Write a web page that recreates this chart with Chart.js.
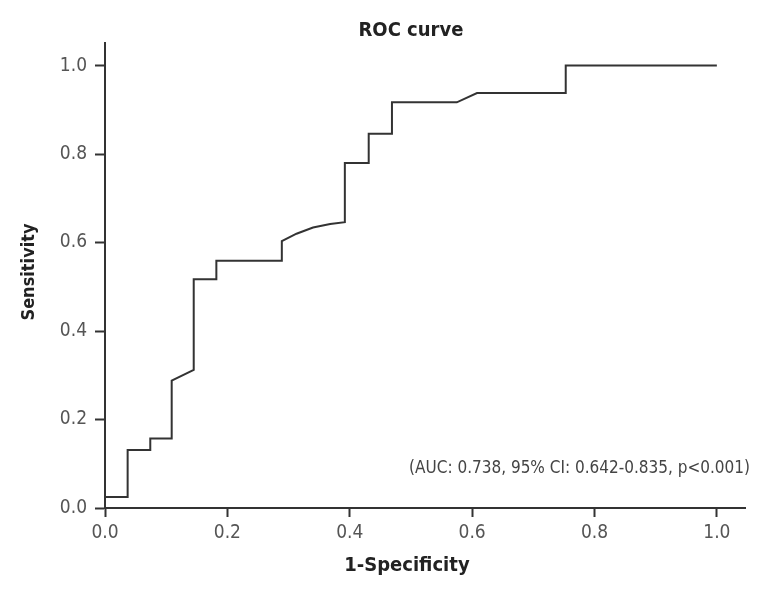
<!DOCTYPE html>
<html>
<head>
<meta charset="utf-8">
<script src="https://cdn.jsdelivr.net/npm/chart.js@4.4.1/dist/chart.umd.min.js"></script>
<style>
  html, body { margin: 0; padding: 0; background: #fff; }
  #wrap { width: 777px; height: 589px; }
</style>
</head>
<body>
<div id="wrap"><canvas id="roc"></canvas></div>
<script>
// ---------------- DATA ----------------
// 1-specificity (false positive rate) and sensitivity
const fpr = [0.000, 0.037, 0.037, 0.074, 0.074, 0.109, 0.109, 0.145, 0.145, 0.182, 0.182,
             0.289, 0.289, 0.313, 0.340, 0.368, 0.392, 0.392, 0.431, 0.431, 0.469, 0.469,
             0.575, 0.608, 0.753, 0.753, 1.000];
const tpr = [0.025, 0.025, 0.131, 0.131, 0.157, 0.157, 0.288, 0.312, 0.517, 0.517, 0.559,
             0.559, 0.603, 0.620, 0.634, 0.642, 0.646, 0.780, 0.780, 0.846, 0.846, 0.917,
             0.917, 0.938, 0.938, 1.000, 1.000];

const xTicks = [0, 0.2, 0.4, 0.6, 0.8, 1.0];
const yTicks = [0, 0.2, 0.4, 0.6, 0.8, 1.0];

const chartTitle = "ROC curve";
const xTitle = "1-Specificity";
const yTitle = "Sensitivity";
const aucNote = "(AUC: 0.738, 95% CI: 0.642-0.835, p<0.001)";

// ---------------- STYLE ----------------
const ink = "#333";
const condensed = "'DejaVu Sans Condensed', 'DejaVu Sans', sans-serif";
const tickFont = { family: condensed, size: 19 };

// texts that are not handled by the axes
const textPlugin = {
  id: "rocTexts",
  afterDraw(chart) {
    const { ctx, chartArea, scales } = chart;
    const midX = scales.x.getPixelForValue(0.5);
    ctx.save();
    ctx.fillStyle = "#222";
    ctx.textAlign = "center";
    ctx.textBaseline = "middle";
    ctx.font = "bold 20px " + condensed;
    ctx.fillText(chartTitle, midX, 31);
    ctx.fillText(xTitle, midX - 4, 566);

    ctx.save();
    ctx.translate(29, 272);
    ctx.rotate(-Math.PI / 2);
    ctx.font = "bold 18px " + condensed;
    ctx.fillText(yTitle, 0, 0);
    ctx.restore();

    ctx.font = "17px " + condensed;
    ctx.fillStyle = "#444";
    ctx.textAlign = "right";
    ctx.fillText(aucNote, chartArea.right + 5, 469);
    ctx.restore();
  }
};

const points = fpr.map((x, i) => ({ x, y: tpr[i] }));

new Chart(document.getElementById("roc"), {
  type: "line",
  data: {
    datasets: [{
      data: points,
      borderColor: ink,
      borderWidth: 2,
      pointRadius: 0,
      tension: 0,
      fill: false,
    }]
  },
  options: {
    responsive: true,
    maintainAspectRatio: false,
    animation: false,
    layout: { padding: { left: 0, right: 32, top: 43, bottom: 0 } },
    plugins: { legend: { display: false }, tooltip: { enabled: false }, title: { display: false } },
    scales: {
      x: {
        type: "linear",
        min: 0,
        max: 1.046,
        afterBuildTicks: (s) => { s.ticks = xTicks.map(v => ({ value: v })); },
        afterFit: (s) => { s.height = 81; },
        ticks: {
          font: tickFont,
          color: "#555",
          padding: 5,
          maxRotation: 0,
          callback: (v) => Number(v).toFixed(1),
        },
        grid: { drawOnChartArea: false, drawTicks: true, tickLength: 9, tickWidth: 2, tickColor: ink },
        border: { display: true, width: 2, color: ink },
      },
      y: {
        type: "linear",
        min: 0,
        max: 1.051,
        afterBuildTicks: (s) => { s.ticks = yTicks.map(v => ({ value: v })); },
        afterFit: (s) => { s.width = 105; },
        ticks: {
          font: tickFont,
          color: "#555",
          padding: 8,
          callback: (v) => Number(v).toFixed(1),
        },
        grid: { drawOnChartArea: false, drawTicks: true, tickLength: 10, tickWidth: 2, tickColor: ink },
        border: { display: true, width: 2, color: ink },
      }
    }
  },
  plugins: [textPlugin]
});
</script>
</body>
</html>
